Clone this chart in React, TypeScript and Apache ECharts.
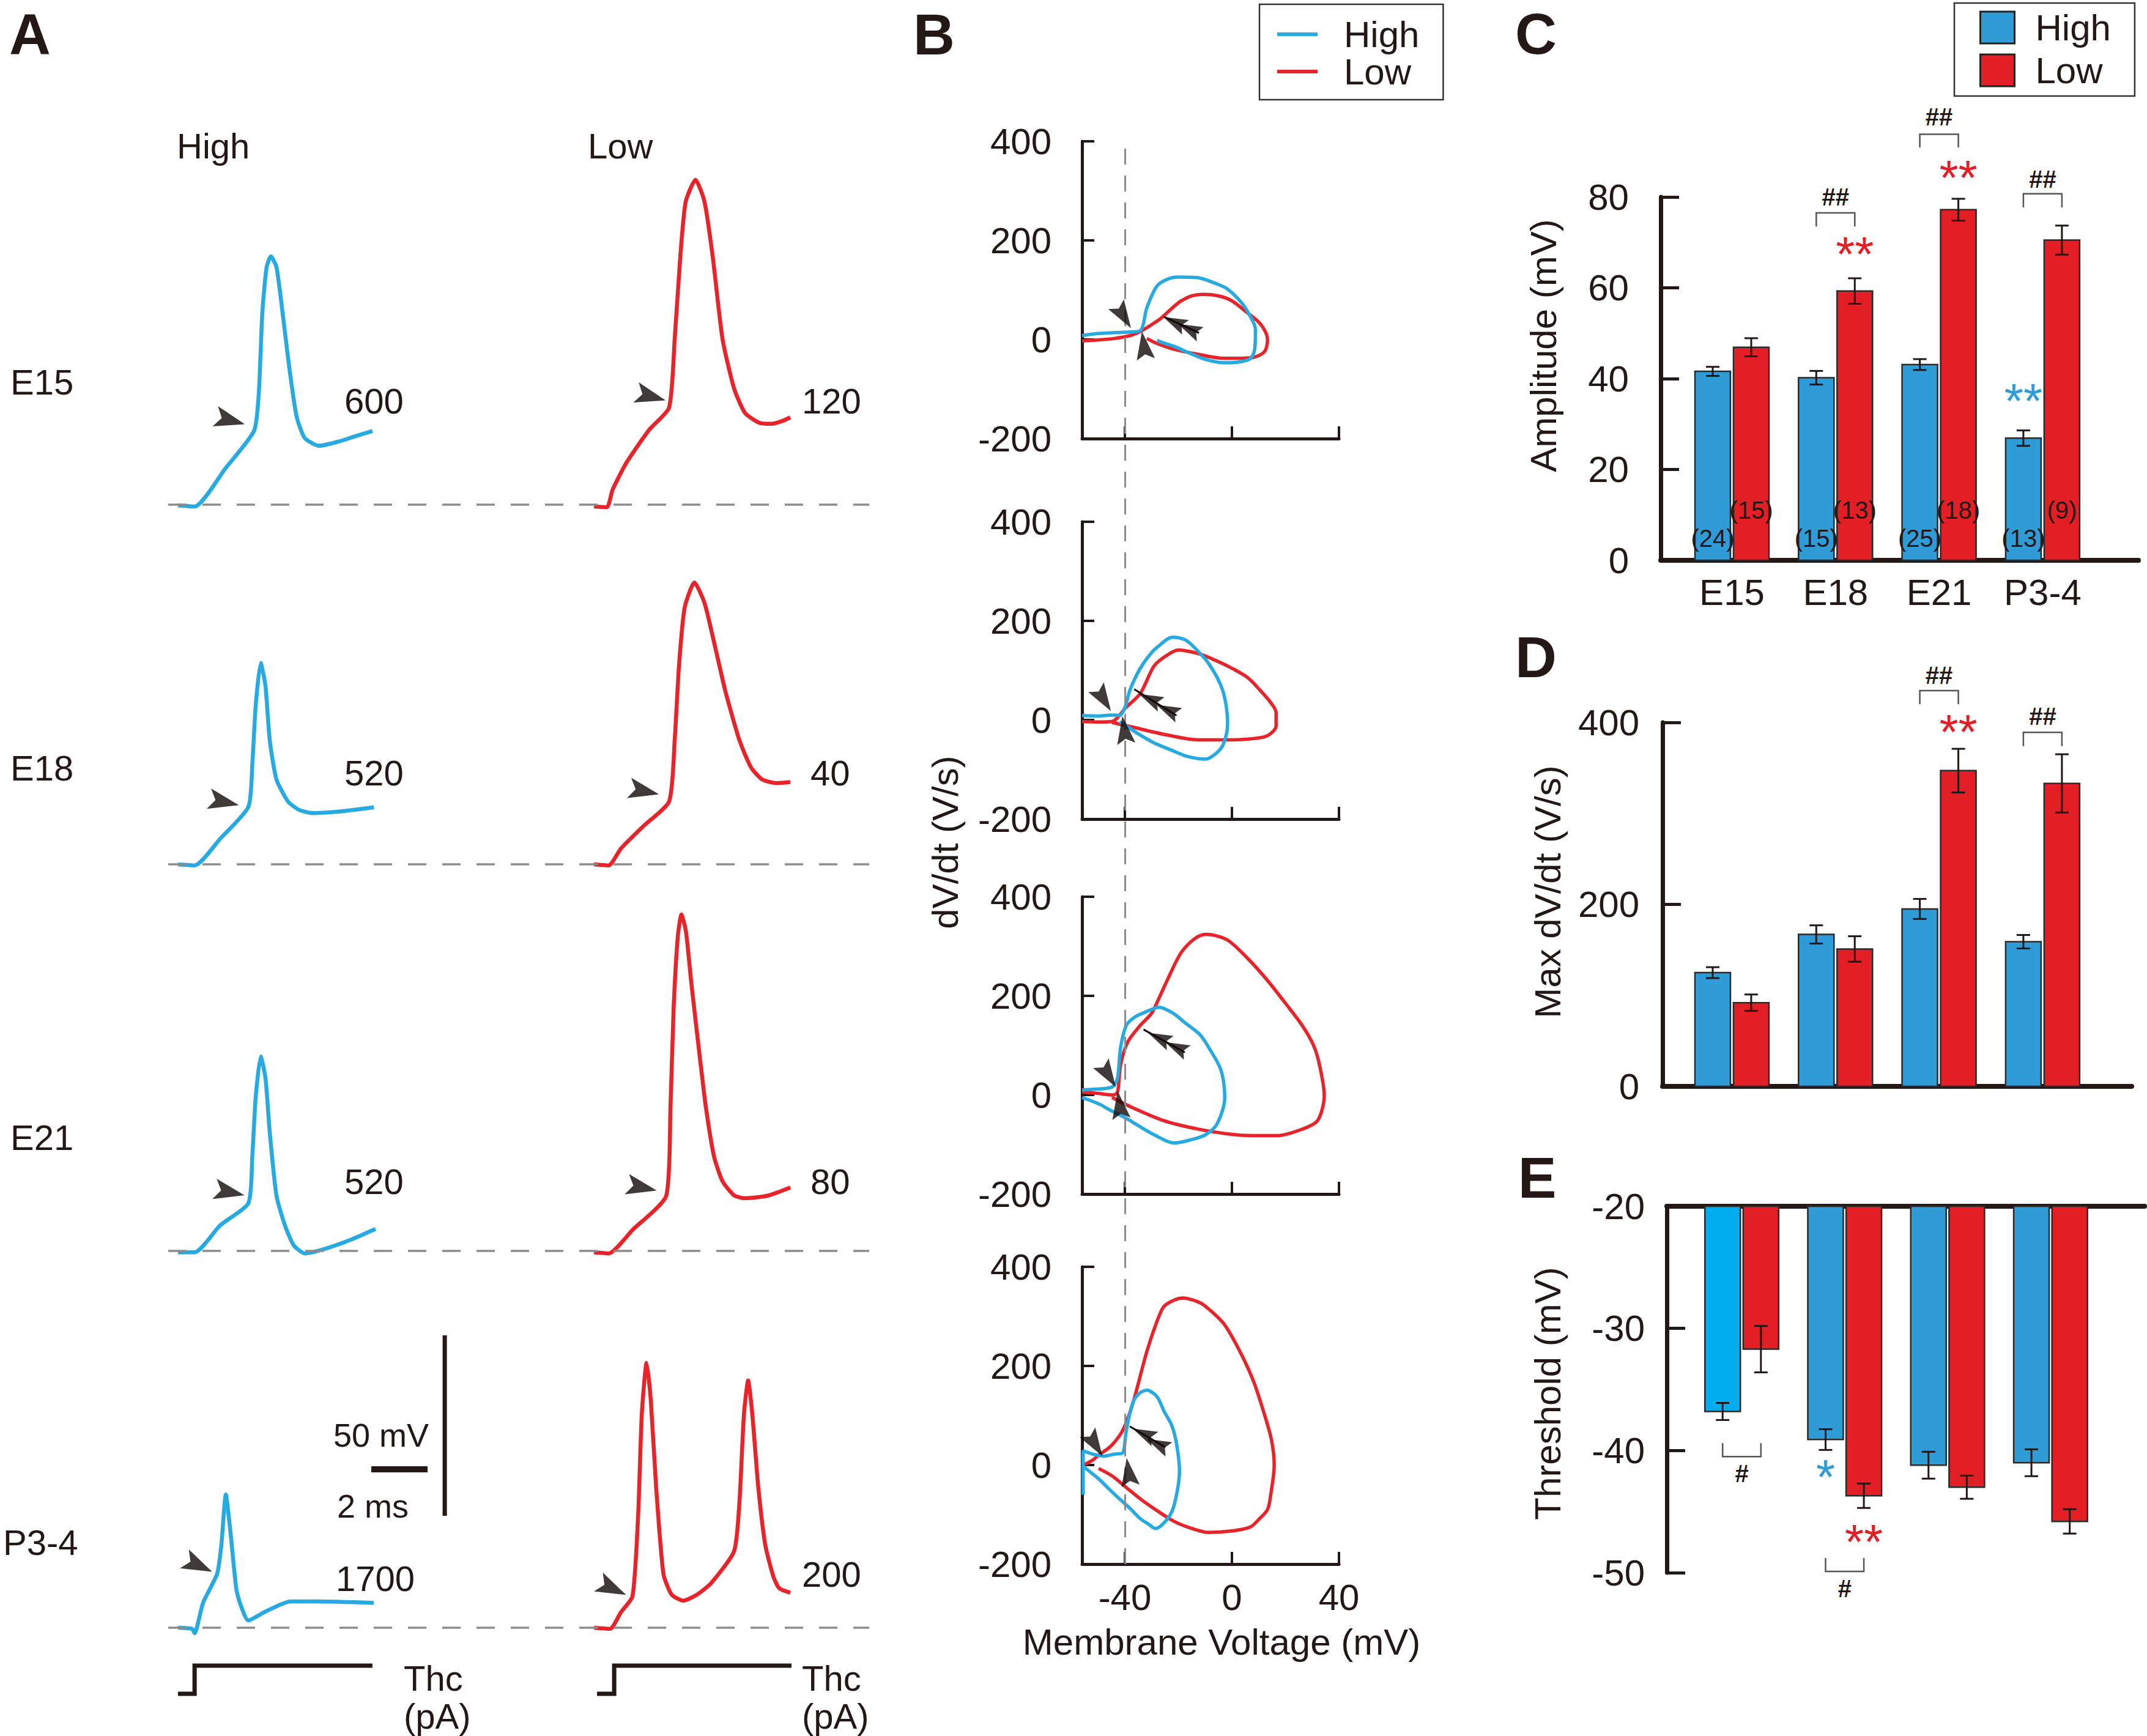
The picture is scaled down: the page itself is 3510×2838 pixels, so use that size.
import { useEffect, useRef } from 'react';
import * as echarts from 'echarts';

const FONT = "'Liberation Sans', Arial, Helvetica, sans-serif";
const INK = '#231815';
const ARROW_INK = '#100908';
const BLUE = '#27A9E1';
const RED = '#E8232A';
const BAR_BLUE = '#2F9BD7';
const BAR_RED = '#E31E25';
const BAR_CYAN = '#00AEEF';
const DASH = '#8c8c8c';

// ---------- categories ----------
const ageGroups = ['E15', 'E18', 'E21', 'P3-4'];

// ---------- Panel A : membrane potential traces (t in ms, V in mV above the dashed baseline) ----------
const thcHigh = ['600', '520', '520', '1700'];
const thcLow = ['120', '40', '80', '200'];

const traceHighE15 = [[0, -0.2], [0.59, -0.5], [1.7, 10.2], [2.7, 20.4], [2.87, 30.7], [3.0, 53.6], [3.15, 65.8], [3.3, 68.8], [3.5, 65.8], [3.71, 53.6], [3.95, 38.3], [4.21, 24.6], [4.5, 18.5], [5.01, 16.3], [5.72, 17.5], [6.32, 19.0], [6.91, 20.4]];
const traceLowE15 = [[0, -0.5], [0.46, -0.7], [0.66, 4.1], [1.16, 11.7], [1.97, 20.8], [2.67, 26.9], [2.87, 45.9], [3.07, 68.8], [3.26, 83.9], [3.61, 90.0], [3.93, 83.9], [4.22, 68.8], [4.57, 45.9], [4.98, 32.2], [5.37, 25.4], [5.87, 22.7], [6.28, 22.4], [6.67, 23.1], [6.98, 24.2]];
const traceHighE18 = [[0, 0], [0.59, -0.3], [1.5, 7.1], [2.5, 15.9], [2.64, 27.5], [2.76, 43.9], [2.94, 55.8], [3.11, 49.3], [3.26, 34.4], [3.5, 23.5], [3.91, 17.4], [4.3, 15.1], [4.8, 14.2], [5.72, 14.6], [6.96, 15.8]];
const traceLowE18 = [[0, 0], [0.52, -0.3], [0.96, 4.4], [1.76, 10.6], [2.67, 17.4], [2.87, 34.4], [3.02, 54.7], [3.22, 71.0], [3.57, 78.1], [3.93, 72.4], [4.27, 61.5], [4.67, 48.0], [5.17, 34.4], [5.58, 26.9], [5.98, 23.5], [6.48, 22.5], [6.98, 22.8]];
const traceHighE21 = [[0, -0.4], [0.59, -0.4], [1.5, 7.1], [2.5, 13.2], [2.64, 26.1], [2.76, 42.4], [2.94, 53.9], [3.11, 47.8], [3.26, 32.9], [3.5, 15.3], [3.8, 7.1], [4.11, 1.6], [4.51, -0.7], [5.11, 0.3], [6.11, 3.0], [7.02, 6.1]];
const traceLowE21 = [[0, -0.4], [0.52, -0.7], [1.37, 5.8], [2.57, 15.3], [2.72, 39.7], [2.83, 66.8], [2.98, 87.1], [3.11, 93.2], [3.27, 88.5], [3.47, 73.6], [3.77, 53.2], [3.98, 39.7], [4.27, 26.1], [4.57, 19.3], [4.98, 15.4], [5.37, 14.6], [6.17, 15.3], [6.98, 17.6]];
const traceHighP34 = [[0, 0], [0.5, -0.3], [0.59, -1.5], [0.89, 6.9], [1.39, 14.9], [1.54, 22.9], [1.7, 36.9], [1.86, 26.8], [2.07, 10.8], [2.2, 6.9], [2.5, 2.0], [3.11, 4.5], [4.0, 7.3], [4.93, 7.3], [6.96, 6.9]];
const traceLowP34 = [[0, 0], [0.57, -0.3], [0.96, 4.3], [1.37, 8.7], [1.57, 31.0], [1.7, 59.0], [1.87, 73.4], [2.02, 63.1], [2.21, 39.0], [2.47, 14.9], [2.76, 9.2], [3.17, 7.5], [3.67, 9.2], [4.17, 12.4], [4.98, 21.2], [5.17, 34.7], [5.33, 59.0], [5.48, 68.5], [5.63, 59.0], [5.84, 39.0], [6.09, 22.9], [6.38, 14.1], [6.59, 10.9], [6.98, 9.7]];

const aArrowHigh = [[1.85, 23.4], [1.63, 17.3], [1.83, 16.3], [0.72, 17.3]];
const aArrowLow = [[2.02, 30.0], [1.78, 20.3], [1.7, 17.6], [0.65, 10.9]];

const stepHigh = [[0, -18.3], [0.59, -18.3], [0.59, -10.5], [6.91, -10.5]];
const stepLow = [[0.11, -18.3], [0.72, -18.3], [0.72, -10.5], [7.02, -10.5]];
const scaleBarMv = [[9.48, 31], [9.48, 81]];
const scaleBarMs = [[6.87, 43.9], [8.87, 43.9]];

// ---------- Panel B : phase plots (V in mV, dV/dt in V/s) ----------
const loopHighE15 = [[-56, 8], [-50, 12], [-44, 14], [-38, 15], [-34, 19], [-31.8, 64], [-28, 108], [-24, 122], [-20, 126], [-13, 125], [-6, 113], [-2, 103], [3, 78], [6, 55], [8.8, 20], [8.5, -20], [7, -38], [3, -45], [-3, -47], [-10, -40], [-16, -27], [-21.5, -14], [-26, -6], [-28, -2]];
const loopLowE15 = [[-56, -3], [-50, -1], [-44, 2], [-38, 8], [-34, 17], [-30, 30], [-26.7, 42], [-22, 65], [-19, 78], [-15, 88], [-11, 91], [-5, 88], [0, 78], [5.5, 55], [10.7, 31], [13.3, 0], [12.1, -25], [7, -37], [-3, -38], [-12.6, -30], [-21.5, -20], [-28, -8], [-31.8, 2]];
const loopHighE18 = [[-56, 9], [-50, 8], [-45, 10], [-42, 9], [-40, 25], [-38.2, 59], [-35.5, 92], [-33.1, 114], [-30, 136], [-27.9, 147], [-22.2, 167], [-18, 163], [-15.1, 152], [-8.7, 114], [-3.4, 59], [-1.6, -7], [-3.4, -51], [-6.5, -70], [-9.8, -79], [-16.4, -74], [-23, -60], [-29.2, -46], [-35, -28], [-40.9, -7], [-42, -4]];
const loopLowE18 = [[-56, -3], [-50, -4], [-44.8, -3], [-39.5, 26], [-34.3, 53], [-29.2, 108], [-25, 128], [-20.1, 141], [-12.6, 134], [-6, 120], [0.5, 103], [6, 85], [10.7, 59], [14.5, 35], [16.5, 15], [16.5, -12], [15, -25], [12.1, -34], [5, -39], [0.5, -40], [-12.6, -40], [-25.4, -29], [-38.2, -13], [-44.8, -5]];
const loopHighE21 = [[-56, 10], [-50, 12], [-44.8, 16], [-42.8, 33], [-41.6, 96], [-39.5, 140], [-36.3, 157], [-32, 168], [-27.2, 177], [-22, 165], [-17.6, 146], [-12, 122], [-8.7, 96], [-4.1, 50], [-2.7, -6], [-5.5, -58], [-9.8, -80], [-15, -90], [-21.5, -97], [-29.2, -80], [-35, -62], [-39.5, -47], [-45, -32], [-49.8, -18], [-56, -5]];
const loopLowE21 = [[-56, 6], [-50, 3], [-44.8, 0], [-42.8, 5], [-41.6, 61], [-38.9, 107], [-34.3, 140], [-30, 165], [-27.2, 196], [-23, 245], [-19, 287], [-14, 315], [-9.8, 324], [-5, 320], [-0.9, 310], [6, 275], [13.3, 231], [20, 185], [26.3, 140], [30.5, 100], [32.7, 61], [34.5, -1], [32, -52], [26.3, -69], [17.2, -82], [8, -82], [0.5, -80], [-12.6, -69], [-25.4, -52], [-38.2, -23], [-44.8, -5]];
const loopHighP34 = [[-55.6, -60], [-55.6, 29], [-52, 22], [-48, 18], [-44, 22], [-40.9, 24], [-39.5, 69], [-37, 126], [-34.5, 145], [-31.8, 151], [-28, 138], [-25.4, 109], [-22.5, 80], [-20.8, 46], [-19.6, -11], [-21.5, -79], [-24, -108], [-28.6, -128], [-31, -120], [-34.3, -108], [-38, -88], [-42.1, -68], [-46, -48], [-49.8, -28], [-55, -5]];
const loopLowP34 = [[-55.6, 0], [-52, 10], [-49.8, 20], [-45.9, 35], [-43, 52], [-40.9, 69], [-38.5, 100], [-36.3, 138], [-31.8, 229], [-28, 290], [-25.4, 320], [-21.5, 333], [-18.3, 337], [-13, 330], [-9.8, 320], [-3, 285], [3, 229], [8, 170], [12.1, 103], [14.8, 50], [15.8, 0], [14.5, -60], [13.3, -90], [10, -110], [6.9, -125], [0, -133], [-8.7, -136], [-15, -128], [-21.5, -114], [-28, -92], [-34.3, -68], [-40, -43], [-44.8, -22], [-49.8, -7]];

const bArrowRed = [[-40.5, 47], [-48, 42], [-46.2, 40], [-51.2, 42]];
const bArrowBlue = [[-32.9, -12], [-40.2, -20], [-42, -20], [-38.6, -14]];
const bArrowHeads = [[[-21.5, 35], [-16, 21]], [[-30.6, 42], [-24, 20]], [[-27.2, 115], [-20.8, 96]], [[-32.9, 63], [-27.7, 42]]];
const bArrowShafts = [[[-25.4, 46], [-12.3, 13]], [[-36.5, 62], [-20.7, 9]], [[-33, 132], [-17.6, 86]], [[-38.2, 78], [-24.9, 36]]];

// ---------- Panels C, D, E : means and SEM ----------
const ampHigh = [41.6, 40.2, 43.1, 26.9];
const ampHighErr = [1.0, 1.5, 1.2, 1.7];
const ampLow = [46.9, 59.3, 77.2, 70.5];
const ampLowErr = [2.0, 2.8, 2.4, 3.2];
const nHigh = ['(24)', '(15)', '(25)', '(13)'];
const nLow = ['(15)', '(13)', '(18)', '(9)'];

const dvdtHigh = [125, 167, 195, 159];
const dvdtHighErr = [6, 10, 11, 7.4];
const dvdtLow = [92, 151, 347, 333];
const dvdtLowErr = [9, 14, 24, 32];

const thrHigh = [-36.8, -39.1, -41.2, -41.0];
const thrHighErr = [0.7, 0.85, 1.1, 1.1];
const thrLow = [-31.7, -43.7, -43.0, -45.8];
const thrLowErr = [1.9, 1.0, 0.95, 1.0];

// significance marks: [group, side(0 High / 1 Low), value, text]
const ampStars: any[] = [[1, 1, 69.2, '**'], [2, 1, 86, '**'], [3, 0, 36.8, '**']];
const dvdtStars: any[] = [[2, 1, 398, '**']];
const thrStars: any[] = [[1, 0, -41.5, '*'], [1, 1, -46.8, '**']];
// brackets: [group, bar line, leg end, label value, text]
const ampBrackets: any[] = [[1, 76.5, 73.5, 80, '##'], [2, 93.8, 90.9, 97.7, '##'], [3, 80.7, 77.7, 83.9, '##']];
const dvdtBrackets: any[] = [[2, 435, 420, 451.7, '##'], [3, 389, 374, 407, '##']];
const thrBrackets: any[] = [[0, -40.5, -39.4, -41.9, '#'], [1, -49.9, -48.8, -51.3, '#']];

const ARROW = 'path://M0,0 L100,40 L0,80 L22,40 Z';
const ARROW_NARROW = 'path://M0,0 L100,30 L0,60 L18,30 Z';
const OFF = 0.186;

function buildOption() {
  const grid: any[] = [];
  const xAxis: any[] = [];
  const yAxis: any[] = [];
  const series: any[] = [];
  const add = (g: any, x: any, y: any) => {
    const i = grid.length;
    grid.push({ ...g, containLabel: false, outerBoundsMode: 'none' });
    xAxis.push({ ...x, gridIndex: i });
    yAxis.push({ ...y, gridIndex: i });
    return i;
  };
  const hidden = (min: number, max: number) => ({ type: 'value', min, max, show: false });
  const ax = (i: number) => ({ xAxisIndex: i, yAxisIndex: i });

  // ----- Panel A -----
  const PX_MS = 46, PX_MV = 5.9, Y0 = -30, Y1 = 100;
  const baselines = [825, 1413, 2045, 2661];
  const highTraces = [traceHighE15, traceHighE18, traceHighE21, traceHighP34];
  const lowTraces = [traceLowE15, traceLowE18, traceLowE21, traceLowP34];
  const arrowRot = [-15, -12, -12, -25];
  const aIdx: number[][] = [];
  baselines.forEach((b, r) => {
    const top = b - Y1 * PX_MV, height = (Y1 - Y0) * PX_MV;
    const L = add({ left: 275, top, width: 1146, height }, hidden(-16 / PX_MS, 1130 / PX_MS), hidden(Y0, Y1));
    const R = add({ left: 971, top, width: 460, height }, hidden(0, 460 / PX_MS), hidden(Y0, Y1));
    aIdx.push([L, R]);
    series.push({
      type: 'line', name: 'A-high-' + r, ...ax(L), data: highTraces[r], symbol: 'none', smooth: 0.2, silent: true,
      lineStyle: { color: BLUE, width: 6.5 }, z: 3,
      markLine: { silent: true, symbol: ['none', 'none'], label: { show: false }, lineStyle: { color: DASH, width: 3.5, type: [30, 26] }, data: [{ yAxis: 0 }] }
    });
    series.push({ type: 'line', name: 'A-low-' + r, ...ax(R), data: lowTraces[r], symbol: 'none', smooth: 0.2, silent: true, lineStyle: { color: RED, width: 6.5 }, z: 3 });
    series.push({ type: 'scatter', ...ax(L), data: [aArrowHigh[r]], symbol: ARROW, symbolSize: [50, 34], symbolRotate: arrowRot[r], itemStyle: { color: ARROW_INK }, silent: true, z: 5 });
    series.push({ type: 'scatter', ...ax(R), data: [aArrowLow[r]], symbol: ARROW, symbolSize: [50, 34], symbolRotate: arrowRot[r], itemStyle: { color: ARROW_INK }, silent: true, z: 5 });
  });
  const [L3, R3] = aIdx[3];
  series.push({ type: 'line', ...ax(L3), data: stepHigh, symbol: 'none', silent: true, lineStyle: { color: INK, width: 7, join: 'miter' } });
  series.push({ type: 'line', ...ax(R3), data: stepLow, symbol: 'none', silent: true, lineStyle: { color: INK, width: 7, join: 'miter' } });
  series.push({ type: 'line', ...ax(L3), data: scaleBarMv, symbol: 'none', silent: true, lineStyle: { color: INK, width: 7 } });
  series.push({ type: 'line', ...ax(L3), data: scaleBarMs, symbol: 'none', silent: true, lineStyle: { color: INK, width: 10 } });

  // ----- Panel B -----
  const bTops = [231, 853, 1466, 2071];
  const loopsHigh = [loopHighE15, loopHighE18, loopHighE21, loopHighP34];
  const loopsLow = [loopLowE15, loopLowE18, loopLowE21, loopLowP34];
  const axText = { fontSize: 60, fontFamily: FONT, color: INK };
  bTops.forEach((top, k) => {
    const i = add(
      { left: 1769, top, width: 420, height: 486 },
      {
        type: 'value', min: -56, max: 40,
        axisLine: { show: true, onZero: false, lineStyle: { color: INK, width: 5 } },
        axisTick: { show: true, inside: true, length: 20, customValues: [-40, 0, 40], lineStyle: { color: INK, width: 4 } },
        axisLabel: { show: k === 3, customValues: [-40, 0, 40], margin: 24, ...axText },
        splitLine: { show: false }
      },
      {
        type: 'value', min: -200, max: 400, interval: 200,
        axisLine: { show: true, onZero: false, lineStyle: { color: INK, width: 5 } },
        axisTick: { show: true, inside: true, length: 20, lineStyle: { color: INK, width: 4 } },
        axisLabel: { margin: 50, ...axText },
        splitLine: { show: false }
      }
    );
    series.push({ type: 'line', name: 'High', ...ax(i), data: loopsHigh[k], symbol: 'none', smooth: 0.3, silent: true, lineStyle: { color: BLUE, width: 5.5 }, itemStyle: { color: BLUE }, z: 3 });
    series.push({ type: 'line', name: 'Low', ...ax(i), data: loopsLow[k], symbol: 'none', smooth: 0.3, silent: true, lineStyle: { color: RED, width: 5.5 }, itemStyle: { color: RED }, z: 2 });
    series.push({ type: 'line', ...ax(i), data: bArrowShafts[k], symbol: 'none', silent: true, lineStyle: { color: ARROW_INK, width: 3 }, z: 6 });
    series.push({
      type: 'scatter', ...ax(i), silent: true, z: 7, itemStyle: { color: ARROW_INK },
      data: [
        { value: bArrowRed[k], symbol: ARROW_NARROW, symbolSize: [46, 30], symbolRotate: -58 },
        { value: bArrowBlue[k], symbol: ARROW_NARROW, symbolSize: [46, 30], symbolRotate: 98 },
        { value: bArrowHeads[k][0], symbol: ARROW_NARROW, symbolSize: [40, 26], symbolRotate: 155 },
        { value: bArrowHeads[k][1], symbol: ARROW_NARROW, symbolSize: [40, 26], symbolRotate: 155 }
      ]
    });
  });
  const dl = add({ left: 1769, top: 231, width: 420, height: 2326 }, hidden(-56, 40), hidden(0, 1));
  series.push({
    type: 'line', ...ax(dl), data: [[-40, 0.5]], symbol: 'none', silent: true, lineStyle: { opacity: 0 },
    markLine: { silent: true, symbol: ['none', 'none'], label: { show: false }, lineStyle: { color: DASH, width: 3, type: [26, 18] }, data: [{ xAxis: -40 }] }
  });

  // ----- Panels C, D, E -----
  const barY = (min: number, max: number, interval: number, margin: number) => ({
    type: 'value', min, max, interval,
    axisLine: { show: true, onZero: false, lineStyle: { color: INK, width: 7 } },
    axisTick: { show: true, inside: true, length: 30, lineStyle: { color: INK, width: 5 } },
    axisLabel: { margin, ...axText },
    splitLine: { show: false }
  });
  const barX = (min: number, max: number, labels: boolean, position: string) => ({
    type: 'value', min, max, position,
    axisLine: { show: true, onZero: false, lineStyle: { color: INK, width: 8 } },
    axisTick: { show: false },
    axisLabel: labels ? { customValues: [0, 1, 2, 3], formatter: (v: number) => ageGroups[Math.round(v)], margin: 22, ...axText } : { show: false },
    splitLine: { show: false }
  });
  const C = add({ left: 2715, top: 322, width: 781, height: 594 }, barX(-0.688, 3.925, true, 'bottom'), barY(0, 80, 20, 52));
  const D = add({ left: 2718, top: 1181, width: 767, height: 595 }, barX(-0.67, 3.86, false, 'bottom'), barY(0, 400, 200, 38));
  const E = add({ left: 2725, top: 1972, width: 781, height: 599 }, barX(-0.728, 3.913, false, 'top'), barY(-50, -20, 10, 36));

  const bars = (i: number, base: number, high: number[], low: number[], highColors: string[]) => {
    const data: any[] = [];
    high.forEach((v, g) => {
      data.push({ value: [g - OFF, v], itemStyle: { color: highColors[g] } });
      data.push({ value: [g + OFF, low[g]], itemStyle: { color: BAR_RED } });
    });
    return {
      type: 'custom', name: 'bars' + i, ...ax(i), silent: true, z: 2, data,
      renderItem: (params: any, api: any) => {
        const x = api.value(0), v = api.value(1);
        const a = api.coord([x, base]);
        const b = api.coord([x, v]);
        return {
          type: 'rect',
          shape: { x: a[0] - 29, y: Math.min(a[1], b[1]), width: 58, height: Math.abs(a[1] - b[1]) },
          style: { fill: api.visual('color'), stroke: '#2a2a2a', lineWidth: 2.5 }
        };
      }
    };
  };
  const errs = (i: number, high: number[], hErr: number[], low: number[], lErr: number[]) => {
    const data: any[] = [];
    high.forEach((v, g) => {
      data.push([g - OFF, v, hErr[g]]);
      data.push([g + OFF, low[g], lErr[g]]);
    });
    return {
      type: 'custom', ...ax(i), silent: true, z: 4, data,
      renderItem: (params: any, api: any) => {
        const x = api.value(0), v = api.value(1), e = api.value(2);
        const t = api.coord([x, v + e]);
        const b = api.coord([x, v - e]);
        const st = { stroke: INK, lineWidth: 3 };
        return {
          type: 'group', children: [
            { type: 'line', shape: { x1: t[0], y1: t[1], x2: b[0], y2: b[1] }, style: st },
            { type: 'line', shape: { x1: t[0] - 11, y1: t[1], x2: t[0] + 11, y2: t[1] }, style: st },
            { type: 'line', shape: { x1: b[0] - 11, y1: b[1], x2: b[0] + 11, y2: b[1] }, style: st }
          ]
        };
      }
    };
  };
  const texts = (i: number, items: any[]) => ({
    type: 'custom', ...ax(i), silent: true, z: 8, data: items.map((it) => [it.x, it.y]),
    renderItem: (params: any, api: any) => {
      const it = items[params.dataIndex];
      const p = api.coord([api.value(0), api.value(1)]);
      return {
        type: 'text', x: p[0], y: p[1] + (it.dy || 0),
        style: { text: it.text, fill: it.color, fontSize: it.size, fontFamily: FONT, fontWeight: it.bold ? 'bold' : 'normal', align: 'center', verticalAlign: 'middle' }
      };
    }
  });
  const brackets = (i: number, list: any[]) => ({
    type: 'custom', ...ax(i), silent: true, z: 7, data: list.map((b) => [b[0], b[1], b[2]]),
    renderItem: (params: any, api: any) => {
      const g = api.value(0), top = api.value(1), leg = api.value(2);
      const p1 = api.coord([g - OFF, leg]);
      const p2 = api.coord([g - OFF, top]);
      const p3 = api.coord([g + OFF, top]);
      const p4 = api.coord([g + OFF, leg]);
      return { type: 'polyline', shape: { points: [p1, p2, p3, p4] }, style: { stroke: '#555', lineWidth: 2.5, fill: null } };
    }
  });
  const starItems = (list: any[]) => list.map((s) => ({ x: s[0] + (s[1] ? OFF : -OFF), y: s[2], text: s[3], color: s[1] ? BAR_RED : BAR_BLUE, size: 80, dy: 13 }));
  const hashItems = (list: any[]) => list.map((b) => ({ x: b[0], y: b[3], text: b[4], color: INK, size: 40, bold: true }));

  series.push(bars(C, 0, ampHigh, ampLow, [BAR_BLUE, BAR_BLUE, BAR_BLUE, BAR_BLUE]));
  series.push(errs(C, ampHigh, ampHighErr, ampLow, ampLowErr));
  series.push(brackets(C, ampBrackets));
  series.push(texts(C, [
    ...starItems(ampStars),
    ...hashItems(ampBrackets),
    ...nHigh.map((t, g) => ({ x: g - OFF, y: 4.9, text: t, color: INK, size: 40 })),
    ...nLow.map((t, g) => ({ x: g + OFF, y: 11, text: t, color: INK, size: 40 }))
  ]));

  series.push(bars(D, 0, dvdtHigh, dvdtLow, [BAR_BLUE, BAR_BLUE, BAR_BLUE, BAR_BLUE]));
  series.push(errs(D, dvdtHigh, dvdtHighErr, dvdtLow, dvdtLowErr));
  series.push(brackets(D, dvdtBrackets));
  series.push(texts(D, [...starItems(dvdtStars), ...hashItems(dvdtBrackets)]));

  series.push(bars(E, -20, thrHigh, thrLow, [BAR_CYAN, BAR_BLUE, BAR_BLUE, BAR_BLUE]));
  series.push(errs(E, thrHigh, thrHighErr, thrLow, thrLowErr));
  series.push(brackets(E, thrBrackets));
  series.push(texts(E, [...starItems(thrStars), ...hashItems(thrBrackets)]));

  // ----- text -----
  const txt = (text: string, x: number, y: number, size: number, o: any = {}) => ({
    type: 'text', x, y, rotation: o.rot || 0, silent: true, z: 20,
    style: { text, fill: INK, fontSize: size, fontFamily: FONT, fontWeight: o.bold ? 'bold' : 'normal', align: o.align || 'left', verticalAlign: 'middle' }
  });
  const rowLabelY = [624, 1255, 1859, 2521];
  const thcHighPos = [[563, 655], [563, 1263], [563, 1931], [549, 2580]];
  const thcLowPos = [[1311, 655], [1325, 1263], [1325, 1931], [1311, 2573]];
  const graphic: any[] = [
    txt('A', 49, 56, 94, { bold: true, align: 'center' }),
    txt('B', 1527, 56, 94, { bold: true, align: 'center' }),
    txt('C', 2511, 55, 94, { bold: true, align: 'center' }),
    txt('D', 2511, 1074, 94, { bold: true, align: 'center' }),
    txt('E', 2513, 1925, 94, { bold: true, align: 'center' }),
    txt('High', 289, 238, 58),
    txt('Low', 961, 238, 58),
    ...ageGroups.map((g, r) => txt(g, r === 3 ? 5 : 17, rowLabelY[r], 58)),
    ...thcHigh.map((t, r) => txt(t, thcHighPos[r][0], thcHighPos[r][1], 58)),
    ...thcLow.map((t, r) => txt(t, thcLowPos[r][0], thcLowPos[r][1], 58)),
    txt('50 mV', 701, 2346, 54, { align: 'right' }),
    txt('2 ms', 551, 2462, 54),
    txt('Thc', 660, 2743, 58),
    txt('(pA)', 660, 2805, 58),
    txt('Thc', 1311, 2743, 58),
    txt('(pA)', 1311, 2805, 58),
    txt('dV/dt (V/s)', 1545, 1377, 60, { rot: Math.PI / 2, align: 'center' }),
    txt('Membrane Voltage (mV)', 1997, 2684, 60, { align: 'center' }),
    txt('Amplitude (mV)', 2523, 565, 60, { rot: Math.PI / 2, align: 'center' }),
    txt('Max dV/dt (V/s)', 2530, 1458, 60, { rot: Math.PI / 2, align: 'center' }),
    txt('Threshold (mV)', 2530, 2278, 60, { rot: Math.PI / 2, align: 'center' })
  ];

  const legendText = { fontSize: 60, fontFamily: FONT, color: INK, lineHeight: 60 };
  const legend = [
    {
      orient: 'vertical', left: 2059, top: 7, selectedMode: false, padding: [19, 39, 16, 29], itemGap: 1,
      itemWidth: 66, itemHeight: 6, borderColor: '#333', borderWidth: 2.5, backgroundColor: '#fff',
      textStyle: { ...legendText, padding: [0, 0, 0, 38] },
      data: [
        { name: 'High', icon: 'rect', itemStyle: { color: BLUE, borderWidth: 0 } },
        { name: 'Low', icon: 'rect', itemStyle: { color: RED, borderWidth: 0 } }
      ]
    },
    {
      orient: 'vertical', left: 3195, top: 5, selectedMode: false, padding: [10, 39, 12, 41], itemGap: 10,
      itemWidth: 56, itemHeight: 52, borderColor: '#333', borderWidth: 2.5, backgroundColor: '#fff',
      textStyle: { ...legendText, padding: [0, 0, 0, 29] },
      data: [
        { name: 'High', icon: 'rect', itemStyle: { color: BAR_BLUE, borderColor: '#222', borderWidth: 3 } },
        { name: 'Low', icon: 'rect', itemStyle: { color: BAR_RED, borderColor: '#222', borderWidth: 3 } }
      ]
    }
  ];

  return {
    animation: false,
    backgroundColor: '#ffffff',
    textStyle: { fontFamily: FONT },
    grid, xAxis, yAxis, series, legend, graphic
  };
}

export default function App() {
  const ref = useRef<HTMLDivElement>(null);
  useEffect(() => {
    document.body.style.margin = '0';
    const chart = echarts.init(ref.current as HTMLDivElement, null, { renderer: 'svg', width: 3510, height: 2838 });
    chart.setOption(buildOption() as any);
    return () => chart.dispose();
  }, []);
  return <div ref={ref} style={{ position: 'absolute', left: 0, top: 0, width: 3510, height: 2838, background: '#fff' }} />;
}
